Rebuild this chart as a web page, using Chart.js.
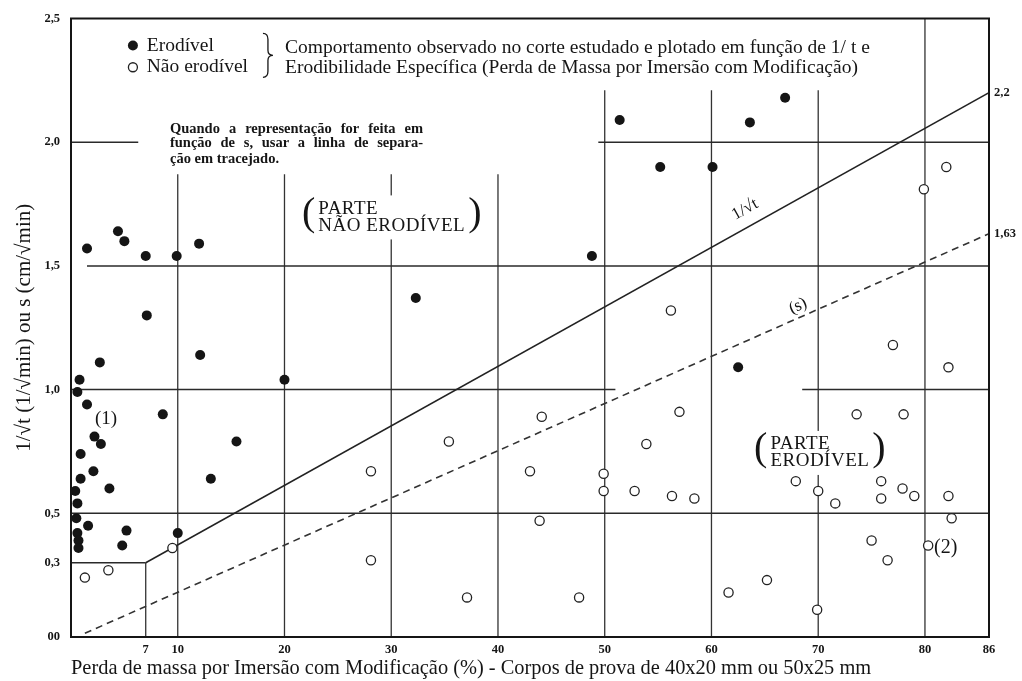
<!DOCTYPE html>
<html>
<head>
<meta charset="utf-8">
<script src="https://cdn.jsdelivr.net/npm/chart.js@4.4.1/dist/chart.umd.min.js"></script>
<style>
html,body{margin:0;padding:0;background:#fff;}
canvas{display:block;}
</style>
</head>
<body>
<canvas id="c" width="1022" height="681" style="width:1022px;height:681px"></canvas>
<script>
// ---------------- data ----------------
const xTickValues = [0, 7, 10, 20, 30, 40, 50, 60, 70, 80, 86];
const xTickLabels = ['', '7', '10', '20', '30', '40', '50', '60', '70', '80', '86'];
const yTickValues = [0, 0.3, 0.5, 1.0, 1.5, 2.0, 2.5];
const yTickLabels = ['00', '0,3', '0,5', '1,0', '1,5', '2,0', '2,5'];
const rightTickValues = [1.63, 2.2];
const rightTickLabels = ['1,63', '2,2'];

// Erodível (filled)
const erodivelX = [1.5, 4.4, 5.0, 7.0, 9.9, 12.0, 7.1, 12.1, 2.7, 0.8, 0.6, 1.5, 8.6, 2.2, 2.8, 0.9, 2.1, 0.9, 3.6, 0.4,
                   0.6, 0.5, 1.6, 0.6, 0.7, 0.7, 5.2, 4.8, 10.0, 13.1, 15.5, 20.0, 32.3, 48.8, 51.4, 55.2, 60.1, 63.6, 66.9, 62.5];
const erodivelY = [1.57, 1.64, 1.60, 1.54, 1.54, 1.59, 1.30, 1.14, 1.11, 1.04, 0.99, 0.94, 0.90, 0.81, 0.78, 0.74, 0.67, 0.64, 0.60, 0.59,
                   0.54, 0.48, 0.45, 0.42, 0.39, 0.36, 0.43, 0.37, 0.42, 0.64, 0.79, 1.04, 1.37, 1.54, 2.09, 1.90, 1.90, 2.08, 2.18, 1.09];

// Não erodível (open)
const naoErodivelX = [1.3, 3.5, 9.5, 28.1, 28.1, 35.4, 37.1, 43.0, 44.1, 43.9, 47.6, 49.9, 49.9, 52.8, 53.9, 56.2, 56.3, 58.4, 57.0, 61.6,
                      65.2, 67.9, 69.9, 70.0, 71.6, 73.6, 75.0, 76.5, 75.9, 75.9, 77.0, 78.0, 77.9, 79.0, 79.9, 82.0, 80.3, 82.2, 82.2, 82.5];
const naoErodivelY = [0.24, 0.27, 0.36, 0.67, 0.31, 0.79, 0.16, 0.67, 0.89, 0.47, 0.16, 0.66, 0.59, 0.59, 0.78, 1.32, 0.57, 0.56, 0.91, 0.18,
                      0.23, 0.63, 0.11, 0.59, 0.54, 0.90, 0.39, 0.31, 0.63, 0.56, 1.18, 0.90, 0.60, 0.57, 1.81, 1.90, 0.37, 1.09, 0.57, 0.48];

// Separation lines
const limitX = [7, 86];        // 1/√t
const limitY = [0.3, 2.2];
const sLineX = [1.3, 86];      // (s)
const sLineY = [0.015, 1.63];

// Partial reference lines (value units)
const hLineY    = [2.0, 2.0, 1.5, 1.0, 1.0, 0.5, 0.3];
const hLineFrom = [0, 49.4, 1.5, 0, 68.5, 0, 0];
const hLineTo   = [6.3, 86, 86, 51, 86, 86, 7];
const vLineX    = [7, 10, 20, 30, 40, 50, 60, 70, 80];
const vLineFrom = [0, 0, 0, 0, 0, 0, 0, 0, 0];
const vLineTo   = [0.3, 1.87, 1.87, 1.87, 1.87, 2.21, 2.21, 2.21, 2.5];

// ---------------- chart ----------------
const SERIF = '"Liberation Serif", "Times New Roman", serif';
const INK = '#151515';

const datasets = [
  {
    label: 'Erodível',
    data: erodivelX.map((x, i) => ({x, y: erodivelY[i]})),
    pointRadius: 5, pointBackgroundColor: INK, pointBorderColor: INK, pointBorderWidth: 0,
    showLine: false, clip: false
  },
  {
    label: 'Não erodível',
    data: naoErodivelX.map((x, i) => ({x, y: naoErodivelY[i]})),
    pointRadius: 4.6, pointBackgroundColor: '#fff', pointBorderColor: '#222', pointBorderWidth: 1.3,
    showLine: false, clip: false
  },
  {
    label: '1/√t',
    data: limitX.map((x, i) => ({x, y: limitY[i]})),
    showLine: true, pointRadius: 0, borderColor: '#222', borderWidth: 1.5
  },
  {
    label: 's',
    data: sLineX.map((x, i) => ({x, y: sLineY[i]})),
    showLine: true, pointRadius: 0, borderColor: '#333', borderWidth: 1.6, borderDash: [7, 5]
  }
];
hLineY.forEach((yv, i) => datasets.push({
  label: 'h' + i,
  data: [{x: hLineFrom[i], y: yv}, {x: hLineTo[i], y: yv}],
  showLine: true, pointRadius: 0, borderColor: '#2a2a2a', borderWidth: 1.5
}));
vLineX.forEach((xv, i) => datasets.push({
  label: 'v' + i,
  data: [{x: xv, y: vLineFrom[i]}, {x: xv, y: vLineTo[i]}],
  showLine: true, pointRadius: 0, borderColor: '#333', borderWidth: 1.3
}));

function justify(ctx, text, x, y, width) {
  const words = text.split(' ');
  const total = words.reduce((s, w) => s + ctx.measureText(w).width, 0);
  const gap = (width - total) / (words.length - 1);
  let cx = x;
  words.forEach(w => { ctx.fillText(w, cx, y); cx += ctx.measureText(w).width + gap; });
}

function parenLabel(ctx, lines, left, cy, size, psize, gap) {
  ctx.font = `${psize}px ${SERIF}`;
  const pw = ctx.measureText('(').width;
  ctx.font = `${size}px ${SERIF}`;
  ctx.letterSpacing = '0.5px';
  const tw = Math.max(...lines.map(l => ctx.measureText(l).width));
  ctx.fillStyle = '#fff';
  ctx.fillRect(left - 2, cy - psize * 0.55, pw * 2 + tw + 9, psize * 1.1);
  ctx.fillStyle = INK;
  ctx.textBaseline = 'middle';
  ctx.textAlign = 'left';
  ctx.fillText(lines[0], left + pw + 3, cy - gap / 2);
  ctx.fillText(lines[1], left + pw + 3, cy + gap / 2);
  ctx.letterSpacing = '0px';
  ctx.font = `${psize}px ${SERIF}`;
  ctx.fillText('(', left, cy - 3);
  ctx.fillText(')', left + pw + 4 + tw + 2, cy - 3);
}

const annotations = {
  id: 'annotations',
  afterDatasetsDraw(chart) {
    const {ctx, chartArea: a, scales: {x, y}} = chart;
    const px = v => x.getPixelForValue(v);
    const py = v => y.getPixelForValue(v);
    ctx.save();
    // frame
    ctx.strokeStyle = INK; ctx.lineWidth = 2;
    ctx.strokeRect(a.left, a.top, a.right - a.left, a.bottom - a.top);

    ctx.fillStyle = INK;
    ctx.textAlign = 'left';
    ctx.textBaseline = 'middle';

    // legend
    ctx.beginPath(); ctx.arc(px(5.8), py(2.391), 5, 0, Math.PI * 2); ctx.fill();
    ctx.beginPath(); ctx.arc(px(5.8), py(2.303), 4.5, 0, Math.PI * 2);
    ctx.fillStyle = '#fff'; ctx.fill(); ctx.lineWidth = 1.3; ctx.strokeStyle = '#222'; ctx.stroke();
    ctx.fillStyle = INK;
    ctx.font = `19.5px ${SERIF}`;
    ctx.fillText('Erodível', px(7.1), py(2.391));
    ctx.fillText('Não erodível', px(7.1), py(2.303));

    // brace
    const bx = px(18.45), by = py(2.351);
    ctx.beginPath();
    ctx.moveTo(bx - 5, by - 22);
    ctx.quadraticCurveTo(bx, by - 22, bx, by - 16);
    ctx.lineTo(bx, by - 5);
    ctx.quadraticCurveTo(bx, by, bx + 5, by);
    ctx.quadraticCurveTo(bx, by, bx, by + 5);
    ctx.lineTo(bx, by + 16);
    ctx.quadraticCurveTo(bx, by + 22, bx - 5, by + 22);
    ctx.lineWidth = 1.3; ctx.strokeStyle = INK; ctx.stroke();

    ctx.font = `19.5px ${SERIF}`;
    ctx.fillText('Comportamento observado no corte estudado e plotado em função de 1/ t e', px(20.05), py(2.383));
    ctx.fillText('Erodibilidade Específica (Perda de Massa por Imersão com Modificação)', px(20.05), py(2.299));

    // note
    ctx.font = `bold 14.5px ${SERIF}`;
    const nl = px(9.27), nw = px(32.98) - px(9.27);
    justify(ctx, 'Quando a representação for feita em', nl, py(2.054), nw);
    justify(ctx, 'função de s, usar a linha de separa-', nl, py(1.994), nw);
    ctx.fillText('ção em tracejado.', nl, py(1.933));

    // region labels
    parenLabel(ctx, ['PARTE', 'NÃO ERODÍVEL'], px(21.64), py(1.696), 19, 40, 17);
    parenLabel(ctx, ['PARTE', 'ERODÍVEL'], px(63.99), py(0.744), 19, 40, 17);

    // point notes
    ctx.fillStyle = INK; ctx.textAlign = 'left'; ctx.textBaseline = 'middle';
    ctx.font = `19px ${SERIF}`;
    ctx.fillText('(1)', px(2.25), py(0.88));
    ctx.font = `20px ${SERIF}`;
    ctx.fillText('(2)', px(80.85), py(0.362));

    // line labels
    const ang1 = Math.atan2(py(limitY[1]) - py(limitY[0]), px(limitX[1]) - px(limitX[0]));
    ctx.save();
    ctx.translate(px(63.14), py(1.728)); ctx.rotate(ang1);
    ctx.textAlign = 'center'; ctx.font = `17px ${SERIF}`;
    ctx.fillText('1/√t', 0, 0);
    ctx.restore();
    const ang2 = Math.atan2(py(sLineY[1]) - py(sLineY[0]), px(sLineX[1]) - px(sLineX[0]));
    ctx.save();
    ctx.translate(px(68.11), py(1.338)); ctx.rotate(ang2);
    ctx.textAlign = 'center'; ctx.font = `17px ${SERIF}`;
    ctx.fillText('(s)', 0, 0);
    ctx.restore();

    ctx.restore();
  }
};

const tickFont = {family: SERIF, size: 12.5, weight: 'bold'};

new Chart(document.getElementById('c'), {
  type: 'scatter',
  data: {datasets},
  options: {
    responsive: false,
    devicePixelRatio: 1,
    animation: false,
    layout: {padding: {top: 15, left: 0, right: 0, bottom: 0}},
    plugins: {legend: {display: false}, tooltip: {enabled: false}},
    elements: {line: {tension: 0}},
    scales: {
      x: {
        type: 'linear', position: 'bottom', min: 0, max: 86,
        grid: {display: false, drawTicks: false},
        border: {display: false},
        afterBuildTicks: s => { s.ticks = xTickValues.map(v => ({value: v})); },
        afterFit: s => { s.height = 44; },
        ticks: {
          autoSkip: false, maxRotation: 0, padding: 5, color: INK, font: tickFont,
          callback: v => xTickLabels[xTickValues.indexOf(v)]
        },
        title: {
          display: true, align: 'start', color: INK,
          text: 'Perda de massa por Imersão com Modificação (%) - Corpos de prova de 40x20 mm ou 50x25 mm',
          font: {family: SERIF, size: 20.4}, padding: {top: 0, bottom: 0}
        }
      },
      y: {
        type: 'linear', position: 'left', min: 0, max: 2.5,
        grid: {display: false, drawTicks: false},
        border: {display: false},
        afterBuildTicks: s => { s.ticks = yTickValues.map(v => ({value: v})); },
        afterFit: s => { s.width = 71; },
        ticks: {
          autoSkip: false, padding: 11, color: INK, font: tickFont,
          callback: v => yTickLabels[yTickValues.indexOf(v)]
        },
        title: {
          display: true, color: INK,
          text: '1/√t (1/√min) ou s (cm/√min)',
          font: {family: SERIF, size: 21}, padding: {top: 12, bottom: 0}
        }
      },
      y2: {
        type: 'linear', position: 'right', min: 0, max: 2.5,
        grid: {display: false, drawTicks: false},
        border: {display: false},
        afterBuildTicks: s => { s.ticks = rightTickValues.map(v => ({value: v})); },
        afterFit: s => { s.width = 33; },
        ticks: {
          autoSkip: false, padding: 5, color: INK, font: tickFont,
          callback: v => rightTickLabels[rightTickValues.indexOf(v)]
        }
      }
    }
  },
  plugins: [annotations]
});
</script>
</body>
</html>
